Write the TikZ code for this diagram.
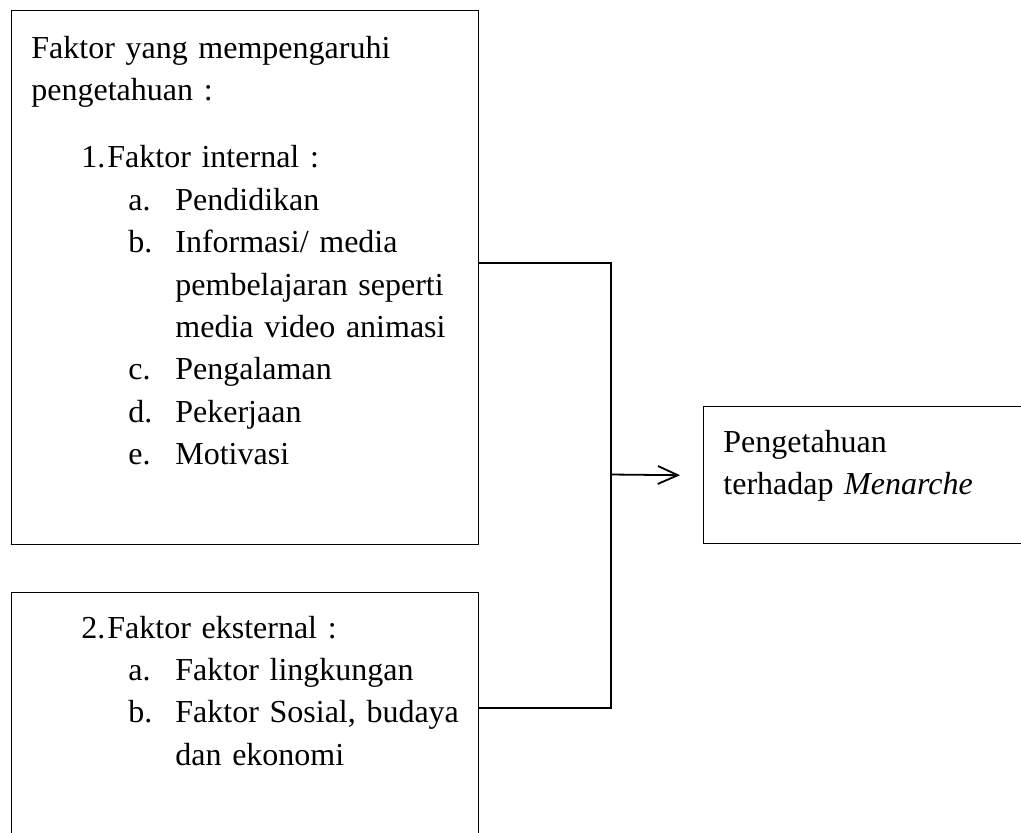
\documentclass[tikz,border=0pt]{standalone}
\usepackage{fontspec}
\setmainfont{Liberation Serif}
\usetikzlibrary{arrows.meta}
\newcommand{\numline}[2]{\hspace*{25pt}\makebox[13pt][l]{#1}#2}
\newcommand{\subline}[2]{\hspace*{48.5pt}\makebox[23.5pt][l]{#1}#2}
\newcommand{\contline}[1]{\hspace*{72pt}#1}
\tikzset{
  box/.style={draw, line width=0.7pt, anchor=north west, inner sep=0pt},
  txt/.style={anchor=base west, inner sep=0pt, align=left, text width=225pt,
    font=\fontsize{16}{21.2}\selectfont},
}
\begin{document}
\begin{tikzpicture}[x=0.5pt, y=-0.5pt]
      \useasboundingbox (0,0) rectangle (1021,832);
      \clip (0,0) rectangle (1021,832);
      \draw
        (11,10) node[box, minimum width=233.5pt, minimum height=267pt] (internal){}
        (11,592) node[box, minimum width=233.5pt, minimum height=130pt] (external){}
        (703,406) node[box, minimum width=170pt, minimum height=68.5pt] (result){};
      \draw
        (31,58) node[txt] (internaltext){Faktor yang mempengaruhi\\
          pengetahuan :\\[12.5pt]
          \numline{1.}{Faktor internal :}\\
          \subline{a.}{Pendidikan}\\
          \subline{b.}{Informasi/ media}\\
          \contline{pembelajaran seperti}\\
          \contline{media video animasi}\\
          \subline{c.}{Pengalaman}\\
          \subline{d.}{Pekerjaan}\\
          \subline{e.}{Motivasi}}
        (31,638) node[txt] (externaltext){\numline{2.}{Faktor eksternal :}\\
          \subline{a.}{Faktor lingkungan}\\
          \subline{b.}{Faktor Sosial, budaya}\\
          \contline{dan ekonomi}}
        (723,452) node[txt] (resulttext){Pengetahuan\\
          terhadap \textit{Menarche}};
      \coordinate (join) at (611,474.5);
      \begin{scope}[line width=0.9pt]
        \draw ([yshift=7.5pt]internal.east) -| (join);
        \draw ([yshift=7.5pt]external.east) -| (join);
        \draw[-{Straight Barb[length=10pt,width=9pt]}] (join) -- ([xshift=-11.5pt]result.west);
      \end{scope}
    \end{tikzpicture}
\end{document}
